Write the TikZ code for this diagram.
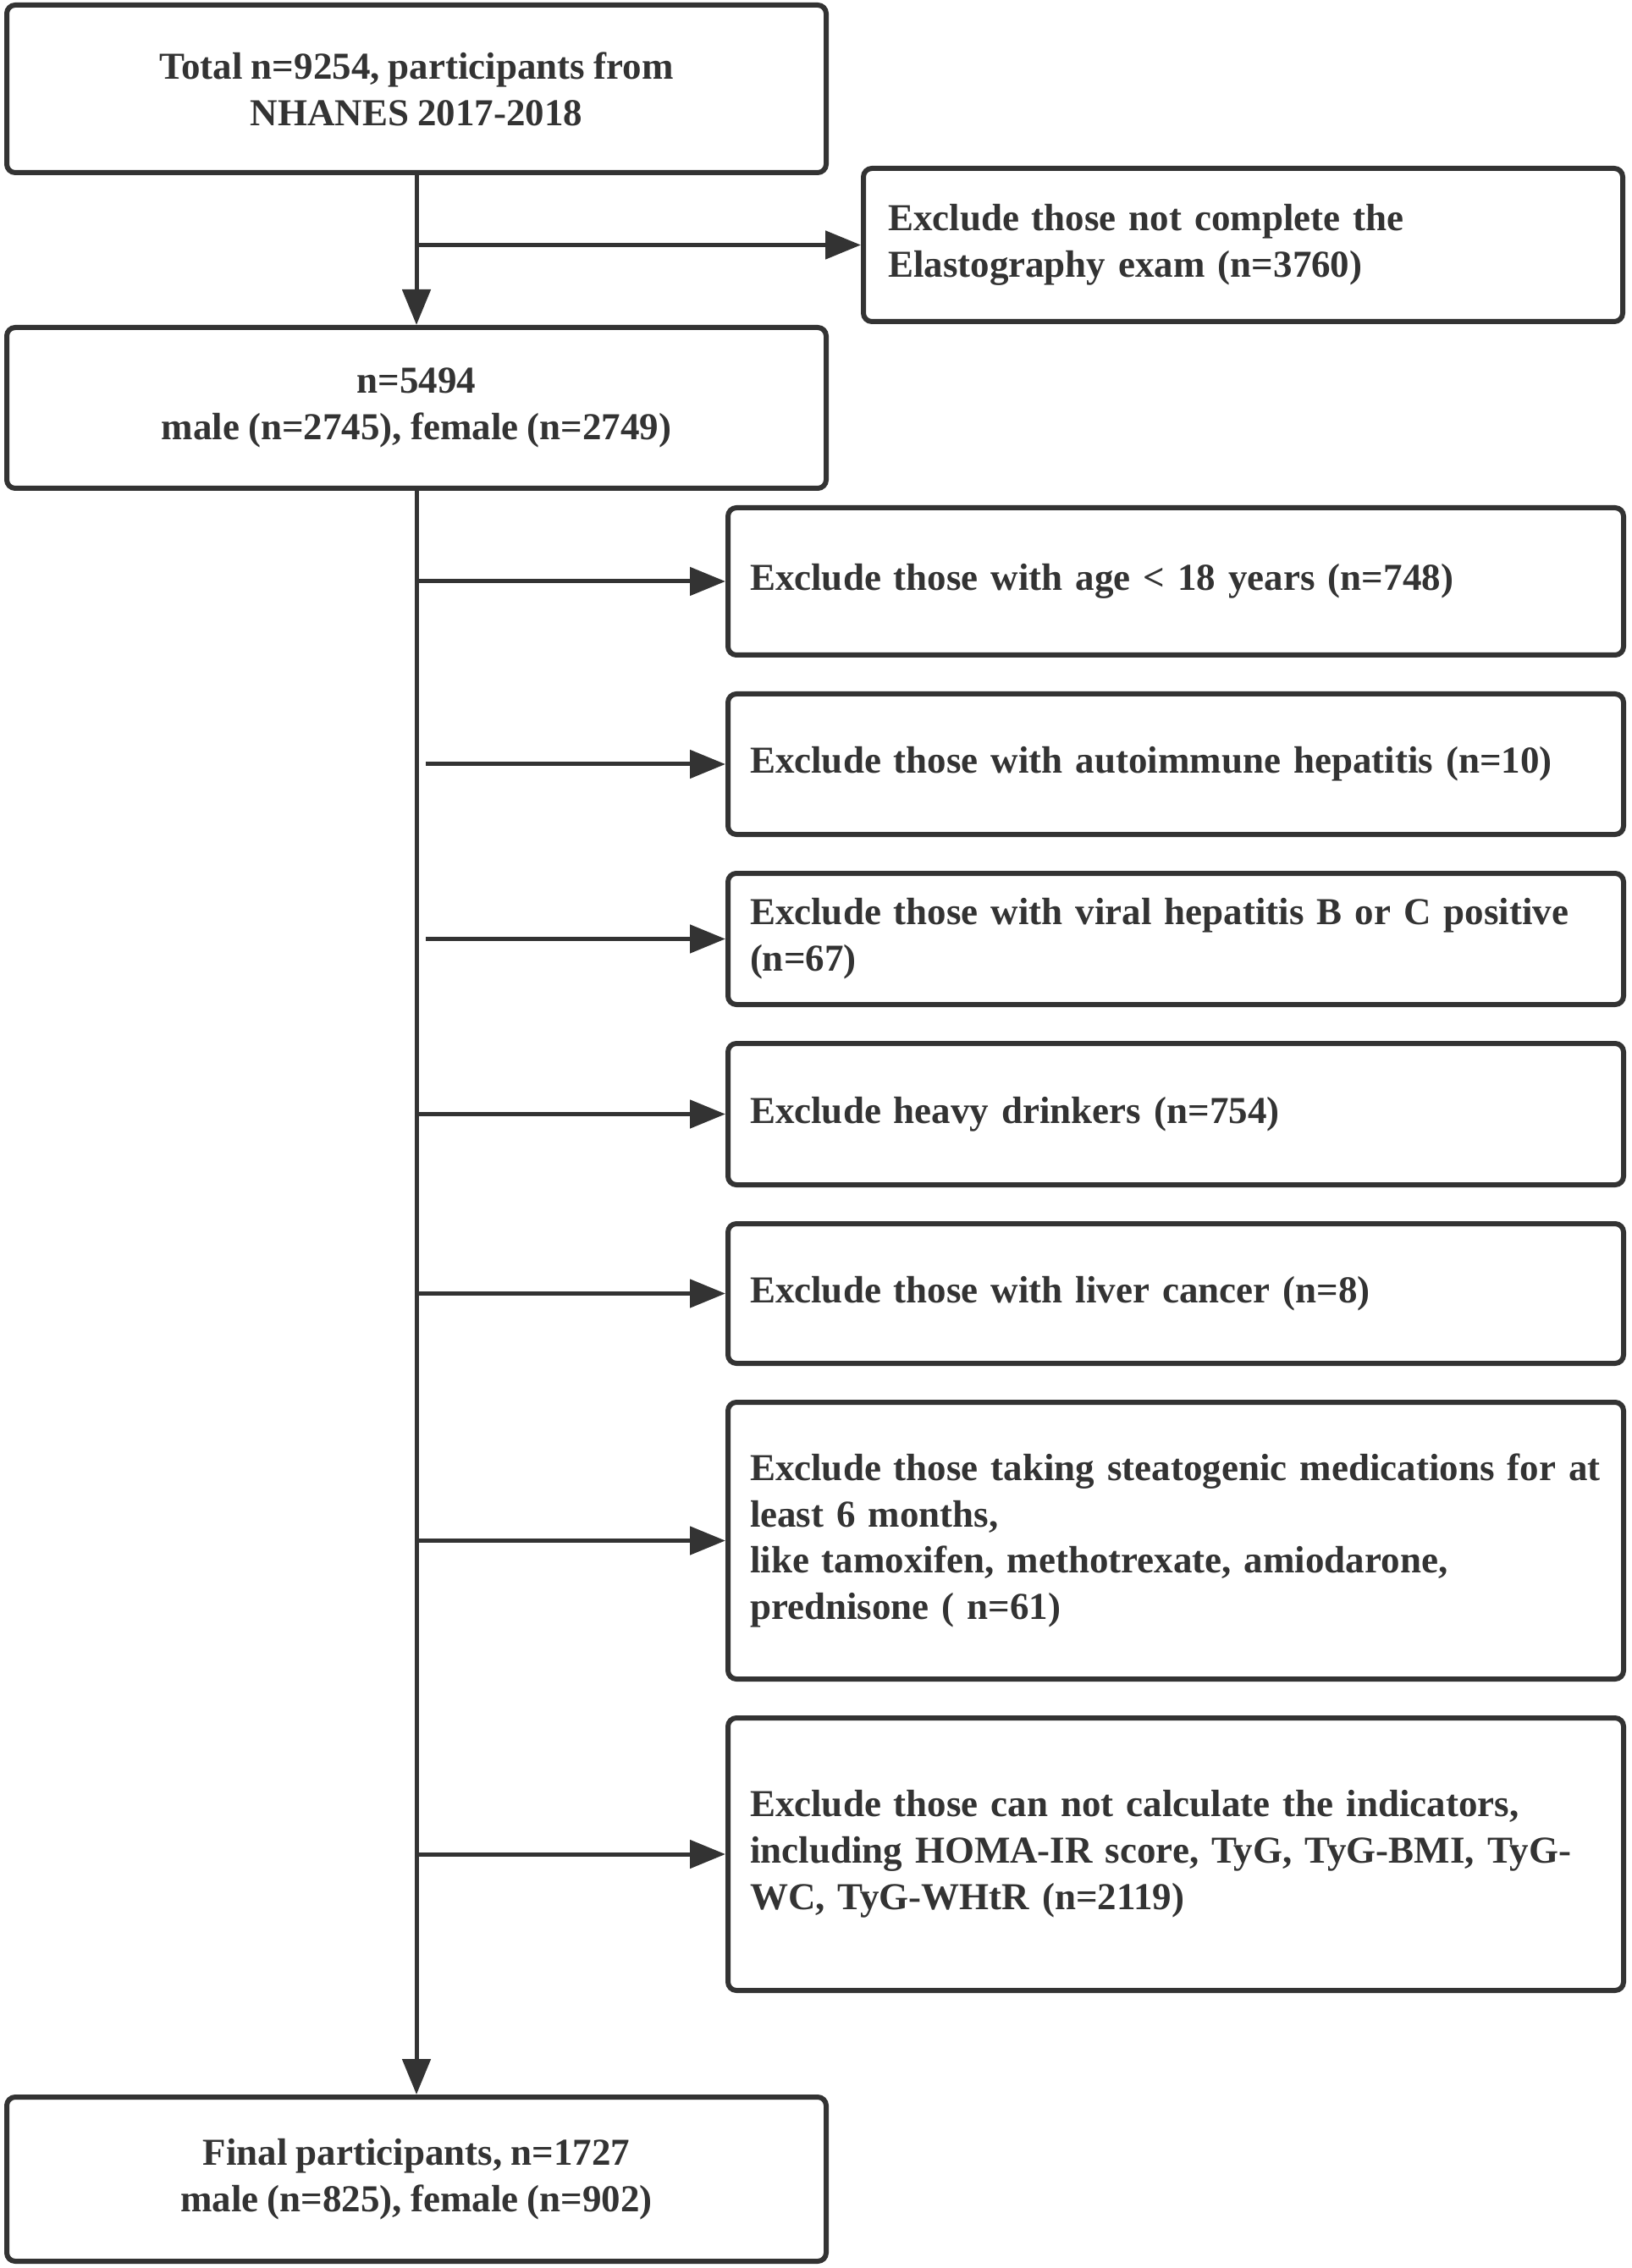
\documentclass[tikz,border=0pt]{standalone}
\usepackage{fontspec}
\setmainfont{Liberation Serif}[WordSpace=0.9]
\usepackage{xcolor}
\usetikzlibrary{arrows.meta, positioning}
\definecolor{flowgray}{RGB}{51,51,51}
\newcommand{\boxfont}{\fontsize{12.8}{15.6}\selectfont\bfseries}
\tikzset{
	line/.style={draw=flowgray, line width=0.5mm, -{Triangle[length=4.2mm, width=3.3mm]}}
}

\begin{document}
\begin{tikzpicture}[
	% --- STYLES ---
	node distance=0.4cm,
	% boxes of the main column
	mainbox/.style={
		draw=flowgray,
		line width=0.6mm,
		rounded corners=1mm,
		minimum width=9.68cm,
		align=center,
		text=flowgray,
		font=\boxfont
	},
	% exclusion boxes on the right
	exclbox/.style={
		draw=flowgray,
		line width=0.6mm,
		rounded corners=1mm,
		text width=10.06cm,
		inner xsep=0.26cm,
		execute at begin node=\raggedright,
		text=flowgray,
		font=\boxfont
	}
	]

	\useasboundingbox (0,0) rectangle (19.27,-26.80);

	% --- Main column ---
	\node[mainbox, minimum height=1.98cm] (total) at (4.92,-1.05) {Total n=9254, participants from\\NHANES 2017-2018};
	\node[mainbox, minimum height=1.90cm, below=1.77cm of total] (n5494) {n=5494\\male (n=2745), female (n=2749)};
	\node[mainbox, minimum height=1.94cm, below=18.95cm of n5494] (final) {Final participants, n=1727\\male (n=825), female (n=902)};

	% --- Exclusions ---
	\node[exclbox, text width=8.39cm, inner xsep=0.29cm, minimum height=1.81cm] (elasto) at (14.685,-2.895) {Exclude those not complete the\\Elastography exam (n=3760)};
	\node[exclbox, minimum height=1.74cm] (age) at (13.89,-6.87) {Exclude those with age < 18 years (n=748)};
	\node[exclbox, minimum height=1.66cm, below=of age] (autoimmune) {Exclude those with autoimmune hepatitis (n=10)};
	\node[exclbox, minimum height=1.55cm, below=of autoimmune] (viral) {Exclude those with viral hepatitis B or C positive\\(n=67)};
	\node[exclbox, minimum height=1.67cm, below=of viral] (drinkers) {Exclude heavy drinkers (n=754)};
	\node[exclbox, minimum height=1.65cm, below=of drinkers] (cancer) {Exclude those with liver cancer (n=8)};
	\node[exclbox, minimum height=3.27cm, below=of cancer] (meds) {Exclude those taking steatogenic medications for at\\least 6 months,\\like tamoxifen, methotrexate, amiodarone,\\prednisone ( n=61)};
	\node[exclbox, minimum height=3.22cm, below=of meds] (indicators) {Exclude those can not calculate the indicators,\\including HOMA-IR score, TyG, TyG-BMI, TyG-\\WC, TyG-WHtR (n=2119)};

	% --- Connections ---
	\draw[line] (total) -- (n5494);
	\draw[line] (total.south |- elasto.west) -- (elasto.west);
	\draw[line] (n5494) -- (final);
	\draw[line] (n5494.south |- age.west) -- (age.west);
	\draw[line] ([xshift=1.1mm]n5494.south |- autoimmune.west) -- (autoimmune.west);
	\draw[line] ([xshift=1.1mm]n5494.south |- viral.west) -- (viral.west);
	\draw[line] (n5494.south |- drinkers.west) -- (drinkers.west);
	\draw[line] (n5494.south |- cancer.west) -- (cancer.west);
	\draw[line] (n5494.south |- meds.west) -- (meds.west);
	\draw[line] (n5494.south |- indicators.west) -- (indicators.west);

\end{tikzpicture}
\end{document}
